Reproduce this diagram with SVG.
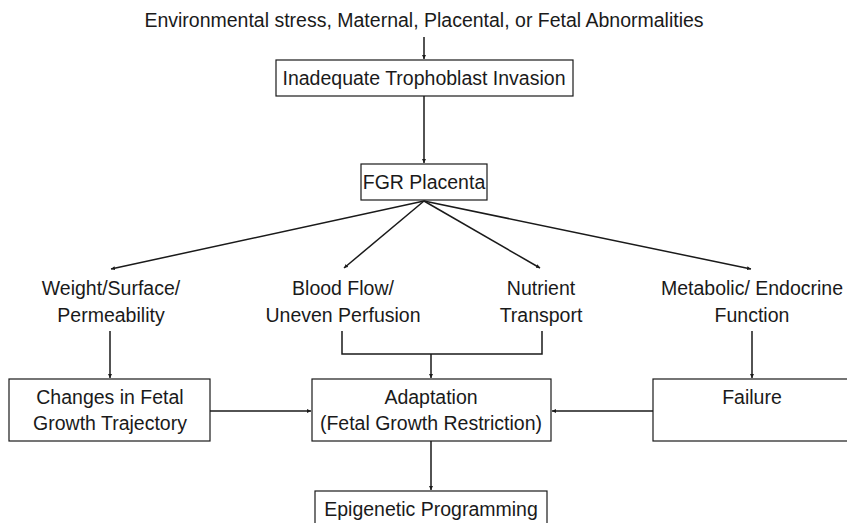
<svg xmlns="http://www.w3.org/2000/svg" width="847" height="523" viewBox="0 0 847 523">
<defs>
<marker id="ah" viewBox="0 0 10 10" refX="10" refY="5" markerWidth="4" markerHeight="4" markerUnits="userSpaceOnUse" orient="auto">
<path d="M0,0 L10,5 L0,10 z" fill="#1a1a1a"/>
</marker>
</defs>
<style>
text{font-family:"Liberation Sans","Open Sans",Arial,sans-serif;font-size:19.5px;fill:#1a1a1a;text-anchor:middle}
.box{fill:#fff;stroke:#1a1a1a;stroke-width:1.2}
.ln{fill:none;stroke:#1a1a1a;stroke-width:1.5}
.ar{fill:none;stroke:#1a1a1a;stroke-width:1.5;marker-end:url(#ah)}
</style>
<rect width="847" height="523" fill="#fff"/>
<g id="connectors">
<line class="ar" x1="424" y1="37" x2="424" y2="59"/>
<line class="ar" x1="424" y1="96" x2="424" y2="163"/>
<line class="ar" x1="424" y1="201" x2="111" y2="269"/>
<line class="ar" x1="424" y1="201" x2="344" y2="268"/>
<line class="ar" x1="424" y1="201" x2="540" y2="268"/>
<line class="ar" x1="424" y1="201" x2="751" y2="269"/>
<line class="ar" x1="110" y1="331" x2="110" y2="378"/>
<polyline class="ln" points="342,331 342,354 542,354 542,331"/>
<line class="ar" x1="431" y1="354" x2="431" y2="378"/>
<line class="ar" x1="752" y1="331" x2="752" y2="378"/>
<line class="ar" x1="210" y1="411" x2="311" y2="411"/>
<line class="ar" x1="653" y1="411" x2="552" y2="411"/>
<line class="ar" x1="431" y1="441" x2="431" y2="490"/>
</g>
<g id="source"><text x="424" y="27">Environmental stress, Maternal, Placental, or Fetal Abnormalities</text></g>
<g id="trophoblast"><rect class="box" x="276" y="60" width="297" height="36"/><text x="424" y="85">Inadequate Trophoblast Invasion</text></g>
<g id="fgr"><rect class="box" x="361" y="164" width="126" height="36"/><text x="424" y="189">FGR Placenta</text></g>
<g id="weight"><text x="111" y="295">Weight/Surface/</text><text x="111" y="322">Permeability</text></g>
<g id="blood"><text x="343" y="295">Blood Flow/</text><text x="343" y="322">Uneven Perfusion</text></g>
<g id="nutrient"><text x="541" y="295">Nutrient</text><text x="541" y="322">Transport</text></g>
<g id="metabolic"><text x="752" y="295">Metabolic/ Endocrine</text><text x="752" y="322">Function</text></g>
<g id="changes"><rect class="box" x="9" y="379" width="201" height="62"/><text x="110" y="404">Changes in Fetal</text><text x="110" y="430">Growth Trajectory</text></g>
<g id="adaptation"><rect class="box" x="312" y="379" width="239" height="62"/><text x="431" y="404">Adaptation</text><text x="431" y="430">(Fetal Growth Restriction)</text></g>
<g id="failure"><rect class="box" x="653" y="379" width="200" height="62"/><text x="752" y="404">Failure</text></g>
<g id="epigenetic"><rect class="box" x="315" y="491" width="232" height="40"/><text x="431" y="516">Epigenetic Programming</text></g>
</svg>
